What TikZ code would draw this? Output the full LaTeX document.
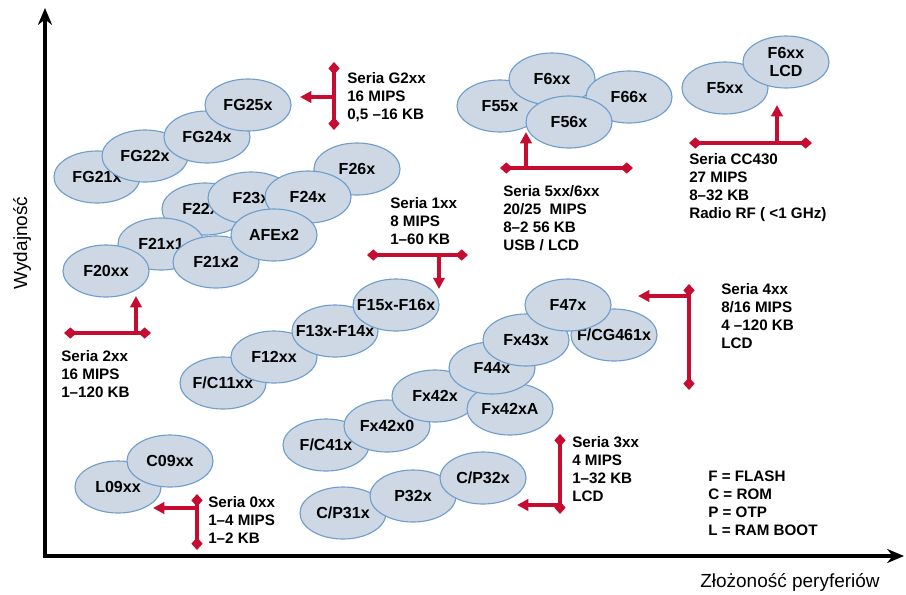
\documentclass[tikz,border=0pt]{standalone}
\usepackage{fontspec}
\setmainfont{Liberation Sans}
\usetikzlibrary{positioning}
\usetikzlibrary{shapes.geometric,arrows.meta}
\definecolor{chipFill}{RGB}{206,216,228}
\definecolor{chipLine}{RGB}{110,158,204}
\definecolor{seriaRed}{RGB}{198,12,48}
% long labels may run over the outline, the ellipse keeps its size
\newcommand{\overLabel}[1]{\makebox[0pt]{#1}}
\tikzset{
    chip/.style={ellipse, draw=chipLine, fill=chipFill, line width=0.8pt,
        minimum width=2.15cm, minimum height=1.3cm, inner sep=0pt,
        align=center, font=\bfseries\fontsize{11.4}{12.8}\selectfont},
    seriaBar/.style={draw=seriaRed, line width=2.2pt,
        {Diamond[length=9pt,width=8pt]}-{Diamond[length=9pt,width=8pt]}},
    seriaArrow/.style={draw=seriaRed, line width=2.2pt,
        -{Triangle[length=8pt,width=8pt]}},
    seriaText/.style={anchor=base west, align=left, inner sep=0pt,
        font=\bfseries\fontsize{10.8}{12.8}\selectfont},
    axis/.style={line width=3.4pt, line join=miter,
        {Stealth[length=12pt,width=10pt]}-{Stealth[length=12pt,width=10pt]}},
    axisLabel/.style={inner sep=0pt, font=\fontsize{13.5}{15}\selectfont}
}
\begin{document}
\begin{tikzpicture}[x=0.025cm, y=-0.025cm]
	\useasboundingbox (0,0) rectangle (906,594);
	% axes
	\coordinate (yTop) at (45,8);
	\coordinate (xEnd) at (904,556);
	\draw[axis] (yTop) |- (xEnd);
	\node[axisLabel, rotate=90] (yLabel) at (22,243) {Wydajność};
	\node[axisLabel] (xLabel) at (790,582) {Złożoność peryferiów};
	% Seria G2xx
	\node[chip] (fg21) at (97,177) {FG21x};
	\node[chip] (fg22) at (145,156) {FG22x};
	\node[chip] (fg24) at (207,137) {FG24x};
	\node[chip] (fg25) at (248,105) {FG25x};
	% Seria 2xx
	\node[chip] (f22) at (205,209) {F22xx};
	\node[chip] (f26) at (357,169) {F26x};
	\node[chip] (f23) at (251,198) {F23x};
	\node[chip] (f24) at (308,197) {F24x};
	\node[chip] (f21a) at (161,244) {F21x1};
	\node[chip] (f20) at (106,271) {F20xx};
	\node[chip] (f21b) at (216,262) {F21x2};
	\node[chip] (afe) at (274,235) {AFEx2};
	% Seria 1xx
	\node[chip] (f11) at (223,383) {\overLabel{F/C11xx}};
	\node[chip] (f12) at (274,357) {F12xx};
	\node[chip] (f13) at (335,331) {\overLabel{F13x-F14x}};
	\node[chip] (f15) at (396,305) {\overLabel{F15x-F16x}};
	% Seria 4xx
	\node[chip] (f41) at (326,445) {F/C41x};
	\node[chip] (f42a) at (387,426) {Fx42x0};
	\node[chip] (f42b) at (435,396) {Fx42x};
	\node[chip] (f42c) at (510,409) {Fx42xA};
	\node[chip] (f44) at (492,368) {F44x};
	\node[chip] (f43) at (526,340) {Fx43x};
	\node[chip] (f461) at (614,335) {\overLabel{F/CG461x}};
	\node[chip] (f47) at (568,305) {F47x};
	% Seria 3xx
	\node[chip] (p31) at (343,513) {C/P31x};
	\node[chip] (p32) at (413,496) {P32x};
	\node[chip] (cp32) at (483,478) {C/P32x};
	% Seria 0xx
	\node[chip] (l09) at (118,487) {L09xx};
	\node[chip] (c09) at (170,461) {C09xx};
	% Seria 5xx/6xx
	\node[chip] (f55) at (500,106) {F55x};
	\node[chip] (f6) at (552,79) {F6xx};
	\node[chip] (f66) at (629,97) {F66x};
	\node[chip] (f56) at (569,122) {F56x};
	% Seria CC430
	\node[chip] (f5cc) at (725,88) {F5xx};
	\node[chip] (f6cc) at (786,62) {F6xx\\LCD};

	% markers (text nodes sit on the baseline of their last line)
	\coordinate (g2Top) at (334,62);
	\coordinate (g2Bot) at (334,130);
	\coordinate (g2Mid) at (334,97);
	\coordinate (g2Tip) at (300,97);
	\draw[seriaBar] (g2Top) -- (g2Bot);
	\draw[seriaArrow] (g2Mid) -- (g2Tip);
	\node[seriaText] (g2Text) at (347,119.5) {Seria G2xx\\16 MIPS\\0,5 –16 KB};

	\coordinate (s1Left) at (367,255);
	\coordinate (s1Right) at (468,255);
	\coordinate (s1Mid) at (439,255);
	\coordinate (s1Tip) at (439,289);
	\draw[seriaBar] (s1Left) -- (s1Right);
	\draw[seriaArrow] (s1Mid) -- (s1Tip);
	\node[seriaText] (s1Text) at (390,244.5) {Seria 1xx\\8 MIPS\\1–60 KB};

	\coordinate (s5Left) at (500,168);
	\coordinate (s5Right) at (633,168);
	\coordinate (s5Mid) at (526,168);
	\coordinate (s5Tip) at (526,132);
	\draw[seriaBar] (s5Left) -- (s5Right);
	\draw[seriaArrow] (s5Mid) -- (s5Tip);
	\node[seriaText] (s5Text) at (503,250.5) {Seria 5xx/6xx\\20/25~ MIPS\\8–2 56 KB\\USB / LCD};

	\coordinate (ccLeft) at (689,143);
	\coordinate (ccRight) at (812,143);
	\coordinate (ccMid) at (777,143);
	\coordinate (ccTip) at (777,105);
	\draw[seriaBar] (ccLeft) -- (ccRight);
	\draw[seriaArrow] (ccMid) -- (ccTip);
	\node[seriaText] (ccText) at (689,218.5) {Seria CC430\\27 MIPS\\8–32 KB\\Radio RF ( <1 GHz)};

	\coordinate (s2Left) at (64,333);
	\coordinate (s2Right) at (151,333);
	\coordinate (s2Mid) at (136,333);
	\coordinate (s2Tip) at (136,296);
	\draw[seriaBar] (s2Left) -- (s2Right);
	\draw[seriaArrow] (s2Mid) -- (s2Tip);
	\node[seriaText] (s2Text) at (61,397.5) {Seria 2xx\\16 MIPS\\1–120 KB};

	\coordinate (s0Top) at (197,494);
	\coordinate (s0Bot) at (197,550);
	\coordinate (s0Mid) at (197,508);
	\coordinate (s0Tip) at (153,508);
	\draw[seriaBar] (s0Top) -- (s0Bot);
	\draw[seriaArrow] (s0Mid) -- (s0Tip);
	\node[seriaText] (s0Text) at (208,543.5) {Seria 0xx\\1–4 MIPS\\1–2 KB};

	\coordinate (s4Top) at (689,284);
	\coordinate (s4Bot) at (689,390);
	\coordinate (s4Mid) at (689,296);
	\coordinate (s4Tip) at (638,296);
	\draw[seriaBar] (s4Top) -- (s4Bot);
	\draw[seriaArrow] (s4Mid) -- (s4Tip);
	\node[seriaText] (s4Text) at (721,348.5) {Seria 4xx\\8/16 MIPS\\4 –120 KB\\LCD};

	\coordinate (s3Top) at (560,434);
	\coordinate (s3Bot) at (560,514);
	\coordinate (s3Mid) at (560,505);
	\coordinate (s3Tip) at (517,505);
	\draw[seriaBar] (s3Top) -- (s3Bot);
	\draw[seriaArrow] (s3Mid) -- (s3Tip);
	\node[seriaText] (s3Text) at (572,501.5) {Seria 3xx\\4 MIPS\\1–32 KB\\LCD};

	% legend
	\node[seriaText] (legend) at (708,535.5) {F = FLASH\\C = ROM\\P = OTP\\L = RAM BOOT};
\end{tikzpicture}
\end{document}
